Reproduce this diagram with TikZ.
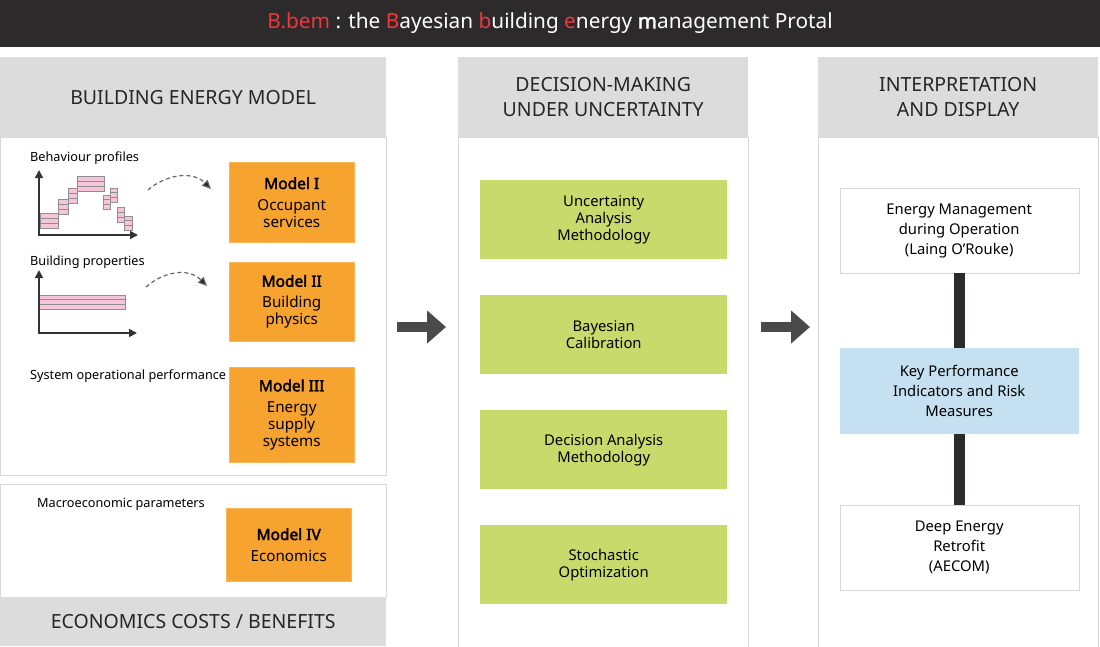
\documentclass[tikz,border=0pt]{standalone}
\usepackage{fontspec}
\setmainfont{Noto Sans}
\newfontfamily\bfnt{Noto Sans}[FakeBold=2.2]
\usetikzlibrary{arrows.meta}
\definecolor{topbar}{HTML}{2D2A2B}
\definecolor{bred}{HTML}{F0373C}
\definecolor{hdrgray}{HTML}{DCDCDC}
\definecolor{bordergray}{HTML}{D8D8D8}
\definecolor{orangebox}{HTML}{F7A330}
\definecolor{greenbox}{HTML}{C9DA6C}
\definecolor{bluebox}{HTML}{C5E0F0}
\definecolor{arrowgray}{HTML}{4A4A4A}
\definecolor{pinkfill}{HTML}{F6C5D9}
\definecolor{pinkedge}{HTML}{8F8F8F}
\newcommand{\pblock}[4]{\filldraw[pinkblk] (#1,#2) rectangle (#3,#4);
  \draw[pinkblk] (#1,{(2*#2+#4)/3}) -- (#3,{(2*#2+#4)/3});
  \draw[pinkblk] (#1,{(#2+2*#4)/3}) -- (#3,{(#2+2*#4)/3});}
\begin{document}
\begin{tikzpicture}[x=1pt,y=-1pt,
  header/.style={fill=hdrgray, draw=none, inner sep=0pt, anchor=north west, align=center, text=black!85, font=\fontsize{19.5}{25}\selectfont},
  panel/.style={draw=bordergray, line width=1pt},
  mbox/.style={fill=orangebox, draw=orangebox!80!white, inner sep=0pt, anchor=north west, minimum width=125pt, align=center, font=\fontsize{15.2}{17}\selectfont},
  gbox/.style={fill=greenbox, draw=none, inner sep=0pt, anchor=north west, minimum width=247pt, minimum height=79pt, align=center, font=\fontsize{14.8}{17}\selectfont},
  rbox/.style={fill=white, draw=bordergray, inner sep=0pt, anchor=north west, minimum width=239pt, align=center, font=\fontsize{14.8}{20}\selectfont},
  lbl/.style={anchor=west, inner sep=0pt, font=\fontsize{12.7}{15}\selectfont},
  axis/.style={line width=1.6pt, draw=black!80, -{Triangle[length=8pt,width=8pt]}},
  pinkblk/.style={fill=pinkfill, draw=pinkedge, line width=0.6pt},
  dasharrow/.style={dashed, dash pattern=on 4pt off 3pt, line width=1.2pt, draw=black!60, -{Triangle[length=9pt,width=8pt,fill=black!85]}},
  bigarrow/.style={line width=10pt, draw=arrowgray, -{Triangle[length=19pt,width=32pt]}},
  bar/.style={line width=11pt, draw=topbar}]
\useasboundingbox (0,0) rectangle (1100,646);
\fill[white] (0,0) rectangle (1100,646);
% title bar
\fill[topbar] (0,0) rectangle (1100,47);
\node[text=white, font=\fontsize{20.8}{24}\selectfont] (title) at (550,23)
  {\textcolor{bred}{B.bem} : the \textcolor{bred}{B}ayesian \textcolor{bred}{b}uilding \textcolor{bred}{e}nergy {\bfnt m}anagement Protal};
% left panel
\node[header, minimum width=386pt, minimum height=80pt] (h1) at (0,57) {BUILDING ENERGY MODEL};
\draw[panel] (0.5,137) rectangle (386,475);
\draw[panel] (0.5,484) rectangle (386,597);
\node[header, minimum width=386pt, minimum height=49pt] (f1) at (0,597) {ECONOMICS COSTS / BENEFITS};
% middle panel
\node[header, minimum width=290pt, minimum height=80pt] (h2) at (458,57) {DECISION-MAKING\\UNDER UNCERTAINTY};
\draw[panel] (458,137) rectangle (748,647);
% right panel
\node[header, minimum width=280pt, minimum height=80pt] (h3) at (818,57) {INTERPRETATION\\AND DISPLAY};
\draw[panel] (818,137) rectangle (1098,647);
% labels
\node[lbl] (lb1) at (30,158) {Behaviour profiles};
\node[lbl] (lb2) at (30,262) {Building properties};
\node[lbl] (lb3) at (30,376) {System operational performance};
\node[lbl] (lb4) at (37,504) {Macroeconomic parameters};
% chart 1
\pblock{40}{213}{58}{228}
\pblock{58}{199}{68}{214}
\pblock{68}{188}{77}{203}
\pblock{77}{176}{104}{191}
\pblock{103}{195}{110}{209}
\pblock{110}{188}{117}{202}
\pblock{117}{207}{124}{222}
\pblock{124}{216}{132}{230}
\draw[axis] (39,235) -- (39,170);
\draw[axis] (38.2,235) -- (138,235);
% chart 2
\pblock{39}{295}{125}{309}
\draw[axis] (39,333) -- (39,270);
\draw[axis] (38.2,333) -- (137,333);
% models
\node[mbox, minimum height=80pt] (m1) at (229,162) {{\bfnt\fontsize{15.5}{17}\selectfont Model I}\\[4pt]Occupant\\services};
\node[mbox, minimum height=79pt] (m2) at (229,262) {{\bfnt\fontsize{15.5}{17}\selectfont Model II}\\[4pt]Building\\physics};
\node[mbox, minimum height=95pt] (m3) at (229,367) {{\bfnt\fontsize{15.5}{17}\selectfont Model III}\\[4pt]Energy\\supply\\systems};
\node[mbox, minimum height=73pt] (m4) at (226,508) {{\bfnt\fontsize{15.5}{17}\selectfont Model IV}\\[4pt]Economics};
% dashed arrows
\coordinate (d1s) at (148,190);
\coordinate (d1e) at (211,189);
\coordinate (d2s) at (146,287);
\coordinate (d2e) at (207,286);
\draw[dasharrow] (d1s) .. controls (165,175) and (192,170) .. (d1e);
\draw[dasharrow] (d2s) .. controls (163,272) and (188,267) .. (d2e);
% green boxes
\node[gbox] (g1) at (480,180) {Uncertainty\\Analysis\\Methodology};
\node[gbox] (g2) at (480,295) {Bayesian\\Calibration};
\node[gbox] (g3) at (480,410) {Decision Analysis\\Methodology};
\node[gbox] (g4) at (480,525) {Stochastic\\Optimization};
% big arrows
\coordinate (a1s) at (397,327);
\coordinate (a1e) at (446,327);
\coordinate (a2s) at (761,327);
\coordinate (a2e) at (810,327);
\draw[bigarrow] (a1s) -- (a1e);
\draw[bigarrow] (a2s) -- (a2e);
% right boxes
\node[rbox, minimum height=85pt] (em) at (839.5,188) {Energy Management\\during Operation\\(Laing O'Rouke)};
\node[rbox, fill=bluebox, draw=none, minimum height=86pt] (kpi) at (839.5,348) {Key Performance\\Indicators and Risk\\Measures};
\node[rbox, minimum height=85pt] (der) at (839.5,505) {Deep Energy\\Retrofit\\(AECOM)};
\draw[bar] (em.south) -- (kpi.north);
\draw[bar] (kpi.south) -- (der.north);
\end{tikzpicture}
\end{document}
